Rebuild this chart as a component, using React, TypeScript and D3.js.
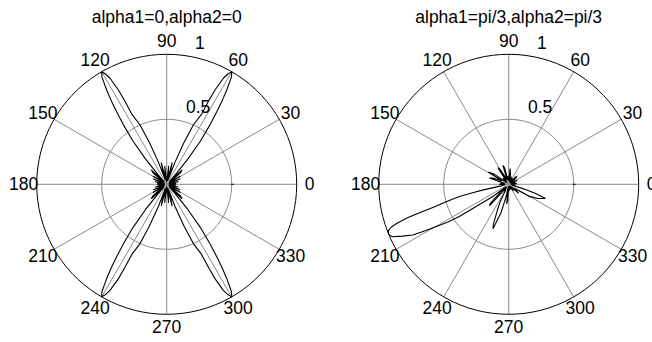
import React from "react";
import * as d3 from "d3";

// Angle ticks (degrees) and ring values of the polar grid
const spokeAngles = [0, 30, 60, 90, 120, 150];
const angleLabels = [0, 30, 60, 90, 120, 150, 180, 210, 240, 270, 300, 330];
const ringValues = [0.5, 1];

const titles = ["alpha1=0,alpha2=0", "alpha1=pi/3,alpha2=pi/3"];

// Beam pattern, alpha1=0, alpha2=0: [angle in degrees, normalized magnitude]
const patternA: [number, number][] = [
  [0, 0.03], [4, 0.07], [8, 0.02], [13, 0.09], [17, 0.02], [22, 0.11], [26, 0.02],
  [31, 0.12], [35, 0.03], [40, 0.14], [43, 0.16], [46, 0.03], [48, 0.1], [50, 0.25],
  [52, 0.42], [54, 0.57], [55.4, 0.68], [56.3, 0.76], [57.5, 0.86], [58.9, 0.965],
  [60, 1.0], [61, 0.97], [61.9, 0.925], [62.9, 0.815], [63.3, 0.71], [63.6, 0.6],
  [65.8, 0.5], [67.5, 0.35], [69.5, 0.18], [71.5, 0.04], [74, 0.12], [76, 0.17],
  [78, 0.03], [81, 0.08], [84, 0.14], [86, 0.03], [88, 0.06],
  [90, 0.02], [92, 0.06], [94, 0.03], [96, 0.14], [99, 0.08], [102, 0.03], [104, 0.17],
  [106, 0.12], [108.5, 0.04], [110.5, 0.18], [112.5, 0.35], [114.2, 0.5], [116.4, 0.6],
  [116.7, 0.71], [117.1, 0.815], [118.1, 0.925], [119, 0.97], [120, 1.0], [121.1, 0.965],
  [122.5, 0.86], [123.7, 0.76], [124.6, 0.68], [126, 0.57], [128, 0.42], [130, 0.25],
  [132, 0.1], [134, 0.03], [137, 0.16], [140, 0.14], [145, 0.03], [149, 0.12], [154, 0.02],
  [158, 0.11], [163, 0.02], [167, 0.09], [172, 0.02], [176, 0.07],
  [180, 0.03], [184, 0.07], [188, 0.02], [193, 0.09], [197, 0.02], [202, 0.11], [206, 0.02],
  [211, 0.12], [215, 0.03], [220, 0.14], [223, 0.16], [226, 0.03], [228, 0.1], [230, 0.25],
  [232, 0.42], [234, 0.57], [235.4, 0.68], [236.3, 0.76], [237.5, 0.86], [238.9, 0.965],
  [240, 1.0], [241, 0.97], [241.9, 0.925], [242.9, 0.815], [243.3, 0.71], [243.6, 0.6],
  [245.8, 0.5], [247.5, 0.35], [249.5, 0.18], [251.5, 0.04], [254, 0.12], [256, 0.17],
  [258, 0.03], [261, 0.08], [264, 0.14], [266, 0.03], [268, 0.06],
  [270, 0.02], [272, 0.06], [274, 0.03], [276, 0.14], [279, 0.08], [282, 0.03], [284, 0.17],
  [286, 0.12], [288.5, 0.04], [290.5, 0.18], [292.5, 0.35], [294.2, 0.5], [296.4, 0.6],
  [296.7, 0.71], [297.1, 0.815], [298.1, 0.925], [299, 0.97], [300, 1.0], [301.1, 0.965],
  [302.5, 0.86], [303.7, 0.76], [304.6, 0.68], [306, 0.57], [308, 0.42], [310, 0.25],
  [312, 0.1], [314, 0.03], [317, 0.16], [320, 0.14], [325, 0.03], [329, 0.12], [334, 0.02],
  [338, 0.11], [343, 0.02], [347, 0.09], [352, 0.02], [356, 0.07],
];

// Beam pattern, alpha1=pi/3, alpha2=pi/3
const patternB: [number, number][] = [
  [0, 0.03], [5, 0.06], [10, 0.02], [15, 0.05], [20, 0.02], [25, 0.07], [30, 0.02],
  [38, 0.05], [43, 0.085], [47, 0.08], [50, 0.02], [57, 0.05], [62, 0.02], [70, 0.06],
  [75, 0.02], [80, 0.08], [85, 0.12], [88, 0.03], [95, 0.06], [100, 0.03], [104, 0.13],
  [107, 0.15], [110, 0.04], [115, 0.05], [120, 0.13], [123, 0.15], [126, 0.03], [133, 0.06],
  [138, 0.02], [145, 0.14], [149, 0.18], [152, 0.06], [158, 0.13], [162, 0.155], [165, 0.05],
  [170, 0.03], [175, 0.06], [180, 0.07], [185, 0.03], [189, 0.04], [191.5, 0.06],
  [192.4, 0.2], [193.3, 0.3], [194, 0.39], [195.5, 0.5], [197, 0.6], [197.7, 0.72],
  [198.3, 0.82], [199.2, 0.91], [200, 0.96], [201, 0.99], [202.3, 1.0], [203.3, 0.995],
  [204.3, 0.98], [206, 0.91], [207.8, 0.835], [209, 0.74], [210.2, 0.65], [211.8, 0.55],
  [213.2, 0.45], [214.3, 0.3], [215.5, 0.22], [217.5, 0.155], [219, 0.06], [221, 0.03],
  [223, 0.08], [226, 0.2], [228, 0.22], [230, 0.08], [233, 0.03], [238, 0.06], [242, 0.05],
  [244, 0.15], [246.5, 0.22], [249, 0.33], [250.5, 0.36], [252, 0.3], [255, 0.22],
  [258, 0.1], [260, 0.02], [264, 0.15], [266, 0.13], [269, 0.02], [275, 0.05], [280, 0.02],
  [288, 0.04], [295, 0.02], [305, 0.06], [312, 0.02], [318, 0.1], [322, 0.05], [327, 0.08],
  [330, 0.19], [334, 0.25], [338.9, 0.3], [341, 0.22], [343, 0.12], [345, 0.03], [350, 0.05],
  [355, 0.02],
];

const patterns = [patternA, patternB];
const centersX = [166.7, 508.7];
const centerY = 184.3;
const R = 130;

const font = "'Liberation Sans', Arial, Helvetica, sans-serif";
const gridColor = "#8a8a8a";
const tickFontSize = 17.5;

const rScale = d3.scaleLinear().domain([0, 1]).range([0, R]);
const toRad = (deg: number) => (deg * Math.PI) / 180;

// d3.lineRadial measures angles clockwise from 12 o'clock
const radial = d3
  .lineRadial<[number, number]>()
  .angle((d) => Math.PI / 2 - toRad(d[0]))
  .radius((d) => rScale(d[1]))
  .curve(d3.curveLinearClosed);

const ringPts = d3.range(0, 360, 3.6);
const ringPath = (v: number) =>
  d3
    .lineRadial<number>()
    .angle((a) => toRad(a))
    .radius(() => rScale(v))
    .curve(d3.curveLinearClosed)(ringPts) || "";

function PolarPanel({ idx }: { idx: number }) {
  const cx = centersX[idx];
  const data = patterns[idx];
  const labelR = rScale(1.1);
  const c82 = Math.cos(toRad(82));
  const s82 = Math.sin(toRad(82));
  return (
    <g>
      <text
        x={cx}
        y={23.3}
        textAnchor="middle"
        fontFamily={font}
        fontSize={17.5}
        fill="#000"
      >
        {titles[idx]}
      </text>
      <g transform={`translate(${cx},${centerY})`}>
        {/* inner ring */}
        {ringValues
          .filter((v) => v < 1)
          .map((v) => (
            <path key={v} d={ringPath(v)} fill="none" stroke={gridColor} strokeWidth={1} />
          ))}
        {/* spokes */}
        {spokeAngles.map((a) => (
          <line
            key={a}
            x1={-rScale(1) * Math.cos(toRad(a))}
            y1={rScale(1) * Math.sin(toRad(a))}
            x2={rScale(1) * Math.cos(toRad(a))}
            y2={-rScale(1) * Math.sin(toRad(a))}
            stroke={gridColor}
            strokeWidth={1}
          />
        ))}
        {/* short tick on the 0 degree axis at the inner ring */}
        <line
          x1={rScale(0.495)}
          y1={0}
          x2={rScale(0.515)}
          y2={0}
          stroke="#000"
          strokeWidth={1}
        />
        {/* outer boundary */}
        <path d={ringPath(1)} fill="none" stroke="#000" strokeWidth={1} />
        {/* pattern */}
        <path
          d={radial(data) || ""}
          fill="none"
          stroke="#000"
          strokeWidth={1.1}
          strokeLinejoin="round"
        />
        {/* angle labels */}
        {angleLabels.map((a) => (
          <text
            key={a}
            x={labelR * Math.cos(toRad(a))}
            y={-labelR * Math.sin(toRad(a))}
            textAnchor="middle"
            dominantBaseline="central"
            fontFamily={font}
            fontSize={tickFontSize}
            fill="#000"
          >
            {a}
          </text>
        ))}
        {/* ring labels */}
        {ringValues.map((v) => {
          const rr = rScale(v + 0.025);
          return (
            <text
              key={v}
              x={rr * c82}
              y={-rr * s82}
              dx="0.556em"
              dy="-0.21em"
              fontFamily={font}
              fontSize={tickFontSize}
              fill="#000"
            >
              {String(v)}
            </text>
          );
        })}
      </g>
    </g>
  );
}

export default function App() {
  return (
    <svg
      width={652}
      height={342}
      viewBox="0 0 652 342"
      style={{ position: "absolute", left: 0, top: 0, background: "#fff" }}
    >
      <rect width={652} height={342} fill="#fff" />
      {[0, 1].map((i) => (
        <PolarPanel key={i} idx={i} />
      ))}
    </svg>
  );
}
